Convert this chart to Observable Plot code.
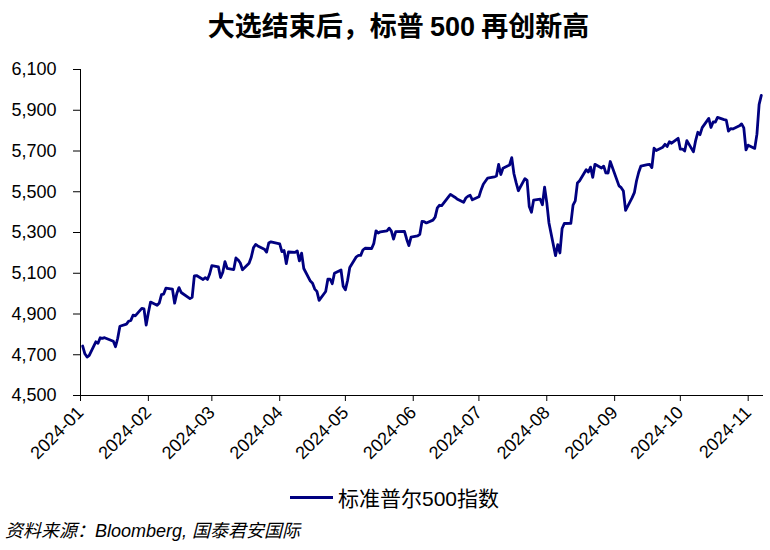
<!DOCTYPE html>
<html><head><meta charset="utf-8">
<script src="https://cdn.jsdelivr.net/npm/d3@7"></script>
<script src="https://cdn.jsdelivr.net/npm/@observablehq/plot@0.6"></script>
<style>
body{margin:0;background:#fff;}
#wrap{position:relative;width:770px;height:550px;overflow:hidden;background:#fff;font-family:"Liberation Sans",Arial,sans-serif;color:#000;}
#title{position:absolute;left:0;top:5px;width:797px;text-align:center;font-weight:bold;font-size:27px;font-family:"Noto Sans CJK SC",sans-serif;white-space:nowrap;}
#title .num{font-family:"Liberation Sans",Arial,sans-serif;font-weight:bold;}
#chart{position:absolute;left:0;top:59px;}
#legend{position:absolute;left:290px;top:483px;height:28px;display:flex;align-items:center;white-space:nowrap;}
#legend .sw{width:43px;height:3px;background:#000080;margin-right:5px;}
#legend .lt{font-size:21px;font-family:"Noto Sans CJK SC",sans-serif;}
#legend .lt .num{font-family:"Liberation Sans",Arial,sans-serif;}
#caption{position:absolute;left:5px;top:516px;font-size:18px;font-style:italic;font-family:"Liberation Sans","Noto Sans CJK SC",sans-serif;white-space:nowrap;}
</style>
</head><body>
<div id="wrap">
  <div id="title">大选结束后，标普 <span class="num">500</span> 再创新高</div>
  <div id="chart"></div>
  <div id="legend"><div class="sw"></div><div class="lt">标准普尔<span class="num">500</span>指数</div></div>
  <div id="caption">资料来源：Bloomberg, 国泰君安国际</div>
</div>
<script>
// S&P 500 closes, trading days per month (2024)
const janDays = [2,3,4,5,8,9,10,11,12,16,17,18,19,22,23,24,25,26,29,30,31];
const janVals = [4742.8,4704.8,4688.7,4697.2,4763.5,4756.5,4783.5,4780.2,4783.8,4766.0,4739.2,4780.9,4839.8,4850.4,4864.6,4868.6,4894.2,4891.0,4927.9,4925.0,4845.7];
const febDays = [1,2,5,6,7,8,9,12,13,14,15,16,20,21,22,23,26,27,28,29];
const febVals = [4906.2,4958.6,4942.8,4954.2,4995.1,4997.9,5026.6,5021.8,4953.2,5000.6,5029.7,5005.6,4975.5,4981.8,5087.0,5088.8,5069.5,5078.2,5069.8,5096.3];
const marDays = [1,4,5,6,7,8,11,12,13,14,15,18,19,20,21,22,25,26,27,28];
const marVals = [5137.1,5131.0,5078.7,5104.8,5157.4,5123.7,5117.9,5175.3,5165.3,5150.5,5117.1,5149.4,5178.5,5224.6,5241.5,5234.2,5218.2,5203.6,5248.5,5254.4];
const aprDays = [1,2,3,4,5,8,9,10,11,12,15,16,17,18,19,22,23,24,25,26,29,30];
const aprVals = [5243.8,5205.8,5211.5,5147.2,5204.3,5202.4,5209.9,5160.6,5199.1,5123.4,5061.8,5051.4,5022.2,5011.1,4967.2,5010.6,5070.6,5071.6,5048.4,5100.0,5116.2,5035.7];
const mayDays = [1,2,3,6,7,8,9,10,13,14,15,16,17,20,21,22,23,24,28,29,30,31];
const mayVals = [5018.4,5064.2,5127.8,5180.7,5187.7,5187.7,5214.1,5222.7,5221.4,5246.7,5308.2,5297.1,5303.3,5308.1,5321.4,5307.0,5267.8,5304.7,5306.0,5267.0,5235.5,5277.5];
const junDays = [3,4,5,6,7,10,11,12,13,14,17,18,20,21,24,25,26,27,28];
const junVals = [5283.4,5291.3,5354.0,5353.0,5347.0,5360.8,5375.3,5421.0,5433.7,5431.6,5473.2,5487.0,5473.2,5464.6,5447.9,5469.3,5477.9,5482.9,5460.5];
const julDays = [1,2,3,5,8,9,10,11,12,15,16,17,18,19,22,23,24,25,26,29,30,31];
const julVals = [5475.1,5509.0,5537.0,5567.2,5572.9,5577.0,5633.9,5584.5,5615.4,5631.2,5667.2,5588.3,5544.6,5505.0,5564.4,5555.7,5427.1,5399.2,5459.1,5463.5,5436.4,5522.3];
const augDays = [1,2,5,6,7,8,9,12,13,14,15,16,19,20,21,22,23,26,27,28,29,30];
const augVals = [5446.7,5346.6,5186.3,5240.0,5199.5,5319.3,5344.2,5344.4,5434.4,5455.2,5543.2,5554.3,5608.3,5597.1,5620.9,5570.6,5634.6,5616.8,5625.8,5592.2,5592.0,5648.4];
const sepDays = [3,4,5,6,9,10,11,12,13,16,17,18,19,20,23,24,25,26,27,30];
const sepVals = [5528.9,5520.1,5503.4,5408.4,5471.1,5495.5,5554.1,5595.8,5626.0,5633.1,5634.6,5618.3,5713.6,5702.6,5718.6,5732.9,5722.3,5745.4,5738.2,5762.5];
const octDays = [1,2,3,4,7,8,9,10,11,14,15,16,17,18,21,22,23,24,25,28,29,30,31];
const octVals = [5708.8,5709.5,5699.9,5751.1,5695.9,5751.1,5792.0,5780.1,5815.0,5859.9,5815.3,5842.5,5841.5,5864.7,5854.0,5851.2,5797.4,5809.9,5808.1,5823.5,5832.9,5813.7,5705.5];
const novDays = [1,4,5,6,7];
const novVals = [5728.8,5712.7,5782.8,5929.0,5973.1];

const yTicks = [4500,4700,4900,5100,5300,5500,5700,5900,6100];
const xTickLabels = ["2024-01","2024-02","2024-03","2024-04","2024-05","2024-06","2024-07","2024-08","2024-09","2024-10","2024-11"];
const xDomain = ["2024-01-01","2024-11-08"];

const months = [[janDays,janVals],[febDays,febVals],[marDays,marVals],[aprDays,aprVals],[mayDays,mayVals],[junDays,junVals],[julDays,julVals],[augDays,augVals],[sepDays,sepVals],[octDays,octVals],[novDays,novVals]];
const data = [];
months.forEach(([days, vals], m) => {
  days.forEach((d, i) => data.push({date: new Date(Date.UTC(2024, m, d)), value: vals[i]}));
});
const xTicks = xTickLabels.map(s => new Date(s + "-01T00:00:00Z"));
const dom = xDomain.map(s => new Date(s + "T00:00:00Z"));

const chart = Plot.plot({
  width: 770,
  height: 416,
  marginTop: 10,
  marginBottom: 80,
  marginLeft: 80,
  marginRight: 7,
  style: {fontFamily: '"Liberation Sans", Arial, sans-serif', fontSize: "18px", color: "#000", background: "#fff", overflow: "visible"},
  x: {type: "utc", domain: dom},
  y: {domain: [yTicks[0], yTicks[yTicks.length - 1]]},
  marks: [
    Plot.axisY({ticks: yTicks, tickFormat: d3.format(","), tickSize: 7, tickPadding: 17, fontSize: 18, label: null}),
    Plot.axisX({ticks: xTicks, tickFormat: d3.utcFormat("%Y-%m"), tickRotate: -45, tickSize: 6, tickPadding: 8, fontSize: 18, label: null}),
    Plot.ruleX([dom[0]], {y1: yTicks[0], y2: yTicks[yTicks.length - 1], stroke: "#000", strokeWidth: 1}),
    Plot.ruleY([yTicks[0]], {stroke: "#000", strokeWidth: 1}),
    Plot.lineY(data, {x: "date", y: "value", stroke: "#000080", strokeWidth: 2.8, curve: "linear"})
  ]
});
document.getElementById("chart").appendChild(chart);
</script>
</body></html>
